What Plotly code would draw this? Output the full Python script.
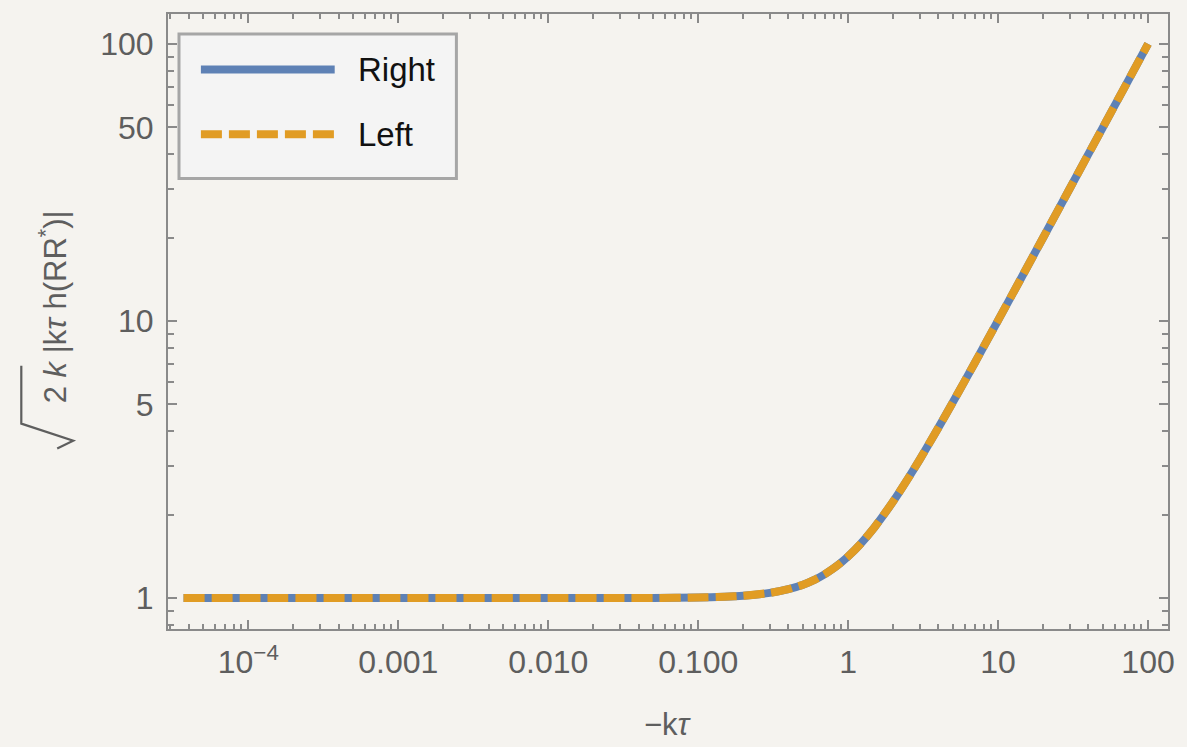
import plotly.graph_objects as go

# ---- data ----
x_ktau = [3.7e-5, 1e-4, 1e-3, 0.01, 0.03, 0.05, 0.1, 0.15, 0.2, 0.3, 0.4, 0.5, 0.6,
          0.7, 0.8, 0.9, 1.0, 1.2, 1.5, 2.0, 2.5, 3.0, 4.0, 5.0, 7.0, 10, 15, 20,
          30, 50, 70, 100]
right_y = [1.0, 1.0, 1.0, 1.0, 1.0005, 1.001, 1.005, 1.011, 1.02, 1.044, 1.077, 1.118,
           1.166, 1.221, 1.281, 1.345, 1.414, 1.562, 1.803, 2.236, 2.693, 3.162, 4.123,
           5.099, 7.071, 10.05, 15.03, 20.02, 30.02, 50.01, 70.01, 100.0]
left_y = [1.0, 1.0, 1.0, 1.0, 1.0005, 1.001, 1.005, 1.011, 1.02, 1.044, 1.077, 1.118,
          1.166, 1.221, 1.281, 1.345, 1.414, 1.562, 1.803, 2.236, 2.693, 3.162, 4.123,
          5.099, 7.071, 10.05, 15.03, 20.02, 30.02, 50.01, 70.01, 100.0]
series_names = ["Right", "Left"]

x_tickvals = [1e-4, 1e-3, 1e-2, 1e-1, 1, 10, 100]
x_ticktext = ["10<sup>\u22124</sup>", "0.001", "0.010", "0.100", "1", "10", "100"]
y_tickvals = [1, 5, 10, 50, 100]
y_ticktext = ["1", "5", "10", "50", "100"]

x_minor = [m * 10.0 ** e for e in range(-5, 2) for m in range(2, 10)]
y_minor = [0.8, 0.9] + [m * 10.0 ** e for e in range(0, 2) for m in (2, 3, 4, 6, 7, 8, 9)]

BLUE = "#5E81B5"
ORANGE = "#E19C24"
BG = "#F5F3EF"
AX = "#8A8A8A"
TXT = "#5E5E5E"
FONT = "Liberation Sans, Arial"

fig = go.Figure()
fig.add_trace(go.Scatter(x=x_ktau, y=right_y, mode="lines", name=series_names[0],
                         line=dict(color=BLUE, width=8, shape="spline", smoothing=0.6)))
fig.add_trace(go.Scatter(x=x_ktau, y=left_y, mode="lines", name=series_names[1],
                         line=dict(color=ORANGE, width=8, dash="21px,7px",
                                   shape="spline", smoothing=0.6)))

axis_common = dict(
    type="log", showline=True, linecolor=AX, linewidth=2, mirror="ticks",
    ticks="inside", ticklen=9, tickwidth=1.5, tickcolor=AX, showgrid=False,
    zeroline=False, tickfont=dict(family=FONT, size=32, color=TXT),
    tickmode="array",
)
fig.update_xaxes(**axis_common, range=[-4.5355, 2.133], tickvals=x_tickvals,
                 ticktext=x_ticktext, ticklabelstandoff=4,
                 minor=dict(tickmode="array", tickvals=x_minor, ticks="inside",
                            ticklen=5, tickwidth=1.5, tickcolor=AX, showgrid=False))
fig.update_yaxes(**axis_common, range=[-0.1115, 2.108], tickvals=y_tickvals,
                 ticktext=y_ticktext, ticklabelstandoff=6,
                 minor=dict(tickmode="array", tickvals=y_minor, ticks="inside",
                            ticklen=6, tickwidth=1.5, tickcolor=AX, showgrid=False))

# ---- legend drawn as a box (paper coordinates) ----
shapes = [
    dict(type="rect", xref="paper", yref="paper", x0=0.011, x1=0.2884, y0=0.7326, y1=0.9676,
         fillcolor="#F4F4F4", line=dict(color="#A6A6A6", width=3), layer="above"),
    dict(type="line", xref="paper", yref="paper", x0=0.0329, x1=0.1667, y0=0.9097, y1=0.9097,
         line=dict(color=BLUE, width=8), layer="above"),
    dict(type="line", xref="paper", yref="paper", x0=0.0329, x1=0.1667, y0=0.8044, y1=0.8044,
         line=dict(color=ORANGE, width=8, dash="21px,7px"), layer="above"),
    # radical sign of the y-axis title
    dict(type="path", xref="paper", yref="paper",
         path="M -0.1467,0.4279 L -0.1467,0.3339 L -0.0948,0.3063 L -0.1108,0.2934",
         line=dict(color=TXT, width=2.2)),
]
annotations = [
    dict(text=series_names[0], xref="paper", yref="paper", x=0.1883, y=0.9097,
         xanchor="left", yanchor="middle", showarrow=False,
         font=dict(family=FONT, size=33, color="#111111")),
    dict(text=series_names[1], xref="paper", yref="paper", x=0.1883, y=0.8044,
         xanchor="left", yanchor="middle", showarrow=False,
         font=dict(family=FONT, size=33, color="#111111")),
    dict(text="\u2212k<i>\u03c4</i>", xref="paper", yref="paper", x=0.5, y=-0.1556,
         xanchor="center", yanchor="middle", showarrow=False,
         font=dict(family=FONT, size=31, color=TXT)),
    dict(text="2 <i>k</i> |k<i>\u03c4</i> h(RR<sup>*</sup>)|",
         xref="paper", yref="paper", x=-0.1148, y=0.5235, textangle=-90,
         xanchor="center", yanchor="middle", showarrow=False,
         font=dict(family=FONT, size=31, color=TXT)),
]

fig.update_layout(
    width=1187, height=747, showlegend=False,
    margin=dict(l=168, r=17, t=12, b=118),
    paper_bgcolor=BG, plot_bgcolor=BG,
    shapes=shapes, annotations=annotations,
)

fig.write_html("out.html")
